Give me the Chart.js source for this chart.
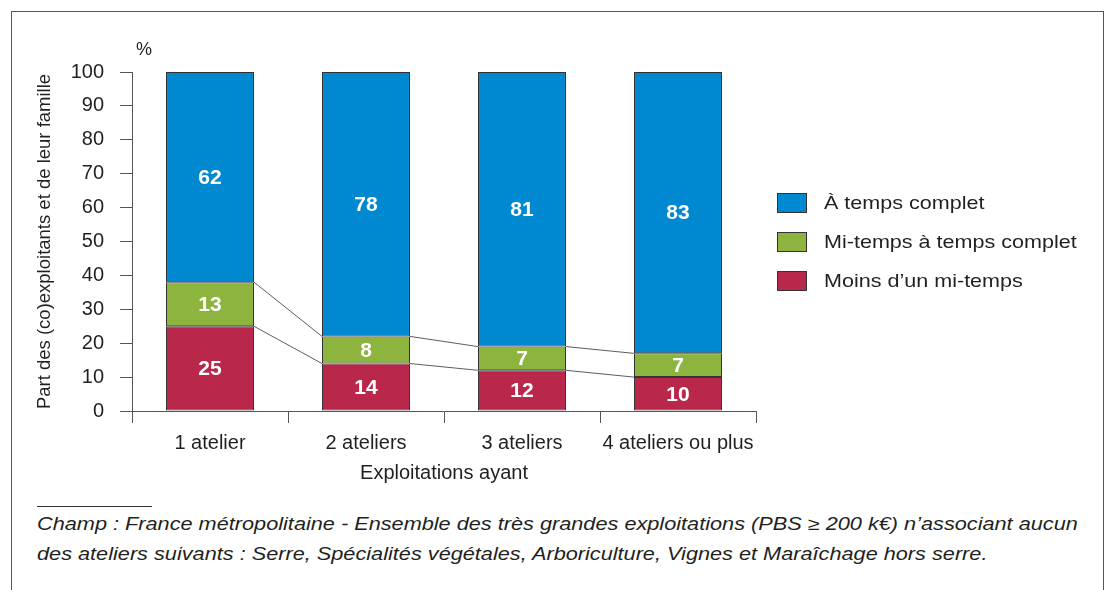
<!DOCTYPE html>
<html>
<head>
<meta charset="utf-8">
<script src="https://cdn.jsdelivr.net/npm/chart.js@4.4.1/dist/chart.umd.min.js"></script>
<style>
    body { margin: 0; background: #fff; font-family: "Liberation Sans", Arial, sans-serif; color: #231f20; }
    #page { position: relative; width: 1112px; height: 590px; overflow: hidden; }
    #frame { position: absolute; left: 11px; top: 11px; width: 1091px; height: 640px; border: 1px solid #555; }
    #chart { position: absolute; left: 0; top: 0; }
    #pct { position: absolute; left: 136px; top: 39px; font-size: 18px; }
    #legend { position: absolute; left: 777px; top: 183px; }
    .item { display: flex; align-items: center; height: 39px; font-size: 18.5px; white-space: nowrap; }
    .item .box { display: inline-block; width: 28px; height: 18px; border: 1px solid #333; margin-right: 17px; }
    .item .txt { display: inline-block; transform: scaleX(1.165); transform-origin: left center; }
    #rule { position: absolute; left: 37px; top: 506px; width: 115px; border-top: 1px solid #333; }
    #note { position: absolute; left: 37px; top: 509px; font-size: 17.5px; font-style: italic; line-height: 30px; white-space: nowrap; transform: scaleX(1.24); transform-origin: left top; }
</style>
</head>
<body>
<div id="page">
    <div id="frame"></div>
    <canvas id="chart" width="1112" height="490"></canvas>
    <div id="pct">%</div>
    <div id="legend"></div>
    <div id="rule"></div>
    <div id="note">Champ : France métropolitaine - Ensemble des très grandes exploitations (PBS ≥ 200 k€) n’associant aucun<br>des ateliers suivants : Serre, Spécialités végétales, Arboriculture, Vignes et Maraîchage hors serre.</div>
</div>
<script>
const categories = ["1 atelier", "2 ateliers", "3 ateliers", "4 ateliers ou plus"];
const moins = [25, 14, 12, 10];
const miTemps = [13, 8, 7, 7];
const complet = [62, 78, 81, 83];
const yTicks = [0, 10, 20, 30, 40, 50, 60, 70, 80, 90, 100];

const FONT = "'Liberation Sans', Arial, sans-serif";
const INK = "#231f20";

// labels inside each segment + thin connectors between stacks
const extras = {
    id: "extras",
    afterDatasetsDraw(chart) {
        const ctx = chart.ctx;
        ctx.save();
        ctx.strokeStyle = "#333";
        ctx.lineWidth = 0.8;
        [0, 1].forEach(d => {
            const bars = chart.getDatasetMeta(d).data;
            for (let i = 0; i < bars.length - 1; i++) {
                const a = bars[i], b = bars[i + 1];
                ctx.beginPath();
                ctx.moveTo(a.x + a.width / 2, a.y);
                ctx.lineTo(b.x - b.width / 2, b.y);
                ctx.stroke();
            }
        });
        ctx.fillStyle = "#fff";
        ctx.font = "bold 21px " + FONT;
        ctx.textAlign = "center";
        ctx.textBaseline = "middle";
        chart.data.datasets.forEach((ds, d) => {
            chart.getDatasetMeta(d).data.forEach((bar, i) => {
                ctx.fillText(ds.data[i], bar.x, (bar.y + bar.base) / 2 + 1);
            });
        });
        ctx.restore();
    }
};

const datasets = [{
    label: "Moins d’un mi-temps",
    data: moins,
    backgroundColor: "#b9284a",
}, {
    label: "Mi-temps à temps complet",
    data: miTemps,
    backgroundColor: "#8cb43f",
}, {
    label: "À temps complet",
    data: complet,
    backgroundColor: "#0089d1",
}].map(ds => ({...ds, borderColor: "#333", borderWidth: 1, borderSkipped: false, categoryPercentage: 1, barPercentage: 0.564 }));

new Chart(document.getElementById("chart"), {
    type: "bar",
    data: { labels: categories, datasets },
    plugins: [extras],
    options: {
        responsive: false,
        animation: false,
        layout: { padding: { left: 30, top: 72, right: 356, bottom: 0 } },
        plugins: { legend: { display: false }, tooltip: { enabled: false } },
        scales: {
            x: {
                stacked: true,
                afterFit: s => { s.height = 79; },
                grid: { drawOnChartArea: false, tickLength: 12, color: "#555" },
                border: { color: "#555" },
                ticks: { color: INK, font: { family: FONT, size: 20 }, padding: 8, autoSkip: false, maxRotation: 0, minRotation: 0 },
                title: { display: true, text: "Exploitations ayant", color: INK, font: { family: FONT, size: 20 }, padding: { top: 0, bottom: 5 } }
            },
            y: {
                stacked: true,
                min: 0,
                max: 100,
                afterFit: s => { s.width = 102; },
                afterBuildTicks: s => { s.ticks = yTicks.map(v => ({ value: v })); },
                grid: { drawOnChartArea: false, tickLength: 12, color: "#555" },
                border: { color: "#555" },
                ticks: { color: INK, font: { family: FONT, size: 20 }, padding: 16 },
                title: { display: true, text: "Part des (co)exploitants et de leur famille", color: INK, font: { family: FONT, size: 18.5 }, padding: { top: 4, bottom: 4 } }
            }
        }
    }
});

const legend = document.getElementById("legend");
datasets.slice().reverse().forEach(ds => {
    const row = document.createElement("div");
    row.className = "item";
    row.innerHTML = `<span class="box" style="background:${ds.backgroundColor}"></span><span class="txt">${ds.label}</span>`;
    legend.appendChild(row);
});
</script>
</body>
</html>
